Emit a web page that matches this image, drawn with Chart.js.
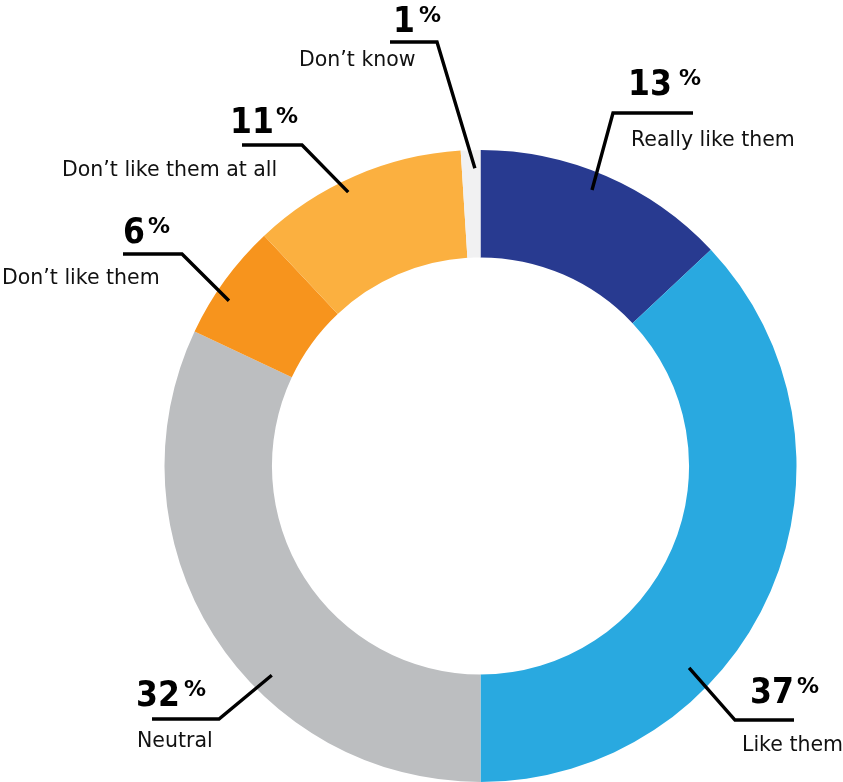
<!DOCTYPE html>
<html>
<head>
<meta charset="utf-8">
<script src="https://cdn.jsdelivr.net/npm/chart.js@4/dist/chart.umd.min.js"></script>
<style>
  body { margin: 0; background: #fff; }
  canvas { display: block; }
</style>
</head>
<body>
<canvas id="donut" width="843" height="782"></canvas>
<script>
// datos de la encuesta (en %)
var categorias = ['Really like them', 'Like them', 'Neutral', 'Don\u2019t like them', 'Don\u2019t like them at all', 'Don\u2019t know'];
var valores = [13, 37, 32, 6, 11, 1];
var colores = ['#283a90', '#29a9e0', '#bcbec0', '#f7941d', '#fbb040', '#f1f1f2'];

// posicion de cada etiqueta, relativa al centro del grafico
// frac / rad: punto dentro del arco donde empieza la linea
var etiquetas = [
    { frac: 0.47, rad: 0.83, codo: [132.5, -353], cola: [212.5, -353], num: [147.5, -371], pct: 198.5, txt: [150.5, -320] },
    { frac: 0.655, rad: 0.76, codo: [254.5, 254], cola: [313.5, 254], num: [269.5, 237], pct: 316.5, txt: [261.5, 285] },
    { frac: 0.39, rad: 0.81, codo: [-261.5, 253], cola: [-328.5, 253], num: [-344.5, 240], pct: -296.5, txt: [-343.5, 281] },
    { frac: 0.375, rad: 0.86, codo: [-298.5, -212], cola: [-357.5, -212], num: [-357.5, -223], pct: -332.5, txt: [-478.5, -182] },
    { frac: 0.44, rad: 0.89, codo: [-178.5, -321], cola: [-238.5, -321], num: [-250.5, -333], pct: -204.5, txt: [-418.5, -290] },
    { frac: 0.7, rad: 0.83, codo: [-43.5, -424], cola: [-90.5, -424], num: [-87.5, -434], pct: -61.5, txt: [-181.5, -400] }
];

// dibujar lineas y textos de cada porcion
const calloutPlugin = {
    id: 'callouts',
    afterDraw: function(chart) {
        const ctx = chart.ctx;
        const meta = chart.getDatasetMeta(0);
        meta.data.forEach(function(arc, i) {
            var e = etiquetas[i];
            var p = arc.getProps(['x', 'y', 'startAngle', 'endAngle', 'innerRadius', 'outerRadius'], true);
            var cx = p.x, cy = p.y;
            var ang = p.startAngle + (p.endAngle - p.startAngle) * e.frac;
            var r = p.innerRadius + (p.outerRadius - p.innerRadius) * e.rad;
            var ax = cx + Math.cos(ang) * r;
            var ay = cy + Math.sin(ang) * r;

            ctx.save();
            ctx.strokeStyle = '#000';
            ctx.lineWidth = 3.4;
            ctx.lineJoin = 'miter';
            ctx.beginPath();
            ctx.moveTo(ax, ay);
            ctx.lineTo(cx + e.codo[0], cy + e.codo[1]);
            ctx.lineTo(cx + e.cola[0], cy + e.cola[1]);
            ctx.stroke();

            ctx.fillStyle = '#000';
            ctx.textAlign = 'left';
            ctx.textBaseline = 'alphabetic';
            ctx.font = 'bold 35px "DejaVu Sans Condensed", "DejaVu Sans", sans-serif';
            ctx.fillText(String(valores[i]), cx + e.num[0], cy + e.num[1]);
            ctx.font = 'bold 22px "DejaVu Sans", sans-serif';
            ctx.fillText('%', cx + e.pct, cy + e.num[1] - 10);

            ctx.fillStyle = '#111';
            ctx.font = '20.5px "DejaVu Sans", sans-serif';
            ctx.fillText(categorias[i], cx + e.txt[0], cy + e.txt[1]);
            ctx.restore();
        });
    }
};

const data = {
    labels: categorias,
    datasets: [{
        data: valores,
        backgroundColor: colores,
        borderWidth: 0,
        hoverOffset: 0,
        offset: 0
    }]
};

const config = {
    type: 'doughnut',
    data: data,
    options: {
        responsive: false,
        animation: false,
        cutout: '66%',
        layout: {
            padding: { left: 164, right: 46, top: 150, bottom: 0 }
        },
        plugins: {
            legend: { display: false },
            tooltip: { enabled: false }
        }
    },
    plugins: [calloutPlugin]
};

const ctx = document.getElementById('donut').getContext('2d');
new Chart(ctx, config);
</script>
</body>
</html>
